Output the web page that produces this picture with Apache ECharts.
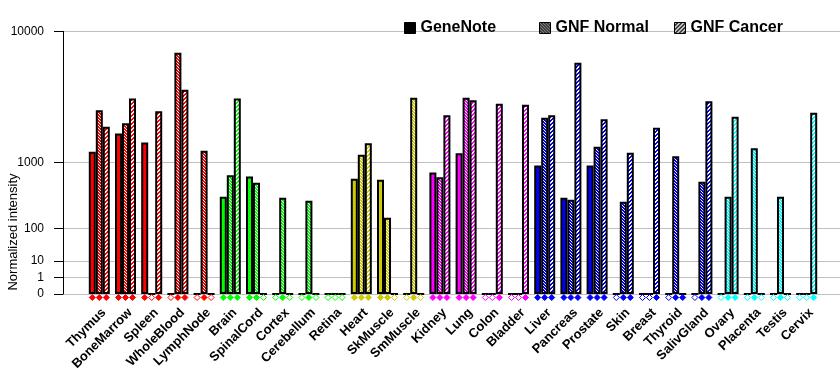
<!DOCTYPE html>
<html><head><meta charset="utf-8">
<script src="https://cdn.jsdelivr.net/npm/echarts@6/dist/echarts.min.js"></script>
<style>html,body{margin:0;padding:0;background:#fff}#c{width:840px;height:385px}</style>
</head><body><div id="c"></div>
<script>
const categories = ['Thymus','BoneMarrow','Spleen','WholeBlood','LymphNode','Brain','SpinalCord','Cortex','Cerebellum','Retina','Heart','SkMuscle','SmMuscle','Kidney','Lung','Colon','Bladder','Liver','Pancreas','Prostate','Skin','Breast','Thyroid','SalivGland','Ovary','Placenta','Testis','Cervix'];
const tissueColors = ['#ff0000','#ff0000','#ff0000','#ff0000','#ff0000','#00ff00','#00ff00','#00ff00','#00ff00','#00ff00','#cccc00','#cccc00','#cccc00','#ff00ff','#ff00ff','#ff00ff','#ff00ff','#0000ff','#0000ff','#0000ff','#0000ff','#0000ff','#0000ff','#0000ff','#00ffff','#00ffff','#00ffff','#00ffff'];
const geneNote  = [1300,1950,1610,null,null,370,690,null,null,null,650,630,null,770,1260,null,null,930,355,930,null,null,null,null,null,null,null,null];
const gnfNormal = [3050,2390,null,7540,1335,715,577,356,321,null,1215,165,3800,675,3800,null,null,2660,332,1460,310,null,1170,594,369,1410,369,null];
const gnfCancer = [2230,3740,2990,4340,null,3740,null,null,null,null,1580,null,null,2780,3630,3430,3370,2780,6550,2580,1270,2190,0,3570,2710,null,null,2920];
const seriesNames = ['GeneNote','GNF Normal','GNF Cancer'];
const tickValues = [0,1,10,100,1000,10000];
const tickLabels = ['0','1','10','100','1000','10000'];

const P = Math.log10(2);
const tr = v => (v == null ? 0 : (v <= 0 ? 0 : Math.pow(v, P)));
const tickTs = tickValues.map(tr);
const FONT = 'Arial, "Liberation Sans", sans-serif';

function fill(color, kind) {
  if (kind === 'solid') return color;
  const n = kind === 'normal' ? 3 : 4;
  const c = document.createElement('canvas');
  c.width = n; c.height = n;
  const ctx = c.getContext('2d');
  ctx.fillStyle = color; ctx.fillRect(0, 0, n, n);
  ctx.fillStyle = '#ffffff';
  for (let x = 0; x < n; x++) for (let y = 0; y < n; y++) {
    const on = kind === 'normal' ? ((x - y + n) % n === 0) : ((x + y) % n < 2);
    if (on) ctx.fillRect(x, y, 1, 1);
  }
  return { image: c, repeat: 'repeat' };
}
const kinds = ['solid','normal','cancer'];
const dataSets = [geneNote, gnfNormal, gnfCancer];
const offsets = [-7, 0, 7];

const maxT = 16;
const gridLineColors = [], tickColors = [];
for (let k = 0; k <= maxT; k++) {
  const on = tickTs.some(t => Math.abs(t - k) < 1e-6);
  gridLineColors.push(on ? '#c0c0c0' : 'rgba(0,0,0,0)');
  tickColors.push(on ? '#000000' : 'rgba(0,0,0,0)');
}

const TOP = 31.3, BOTTOM = 91;
const barLeft = 86.2, barWidthAll = 26.2 * categories.length;

const series = [];
dataSets.forEach((arr, s) => {
  series.push({
    name: seriesNames[s], type: 'bar', xAxisIndex: 1, yAxisIndex: 1,
    barWidth: 7, barGap: '0%',
    itemStyle: { color: fill('#000', kinds[s]), borderColor: '#000', borderWidth: 2 },
    emphasis: { disabled: true },
    data: arr.map((v, i) => ({ value: tr(v), itemStyle: { color: fill(tissueColors[i], kinds[s]), borderColor: '#000', borderWidth: 2 } }))
  });
});
dataSets.forEach((arr, s) => {
  series.push({
    name: seriesNames[s] + ' mark', type: 'scatter', xAxisIndex: 2, yAxisIndex: 2,
    symbol: 'diamond', symbolSize: 6, symbolOffset: [offsets[s], 0], silent: true,
    data: arr.map((v, i) => ({ value: [i, 0.5], itemStyle: { color: v == null ? '#ffffff' : tissueColors[i], borderColor: tissueColors[i], borderWidth: 1, opacity: 1 } }))
  });
});

const legends = seriesNames.map((n, s) => ({
  left: 399 + 135 * s, top: 15, itemWidth: 11, itemHeight: 11, icon: 'rect',
  selectedMode: false,
  textStyle: { fontFamily: FONT, fontSize: 16, fontWeight: 'bold', color: '#000' },
  data: [{ name: n, itemStyle: { color: fill('#000', kinds[s]), borderColor: '#000', borderWidth: 1 } }]
}));

const chart = echarts.init(document.getElementById('c'), null, { renderer: 'canvas' });
chart.setOption({
  animation: false,
  backgroundColor: '#ffffff',
  legend: legends,
  graphic: [{
    type: 'text', x: 13, y: 232, rotation: Math.PI / 2, silent: true,
    style: { text: 'Normalized intensity', fontFamily: FONT, fontSize: 13, fill: '#000', align: 'center', verticalAlign: 'middle' }
  }],
  grid: [
    { left: 63, right: 0, top: TOP, bottom: BOTTOM },
    { left: barLeft, width: barWidthAll, top: TOP, bottom: BOTTOM },
    { left: barLeft, width: barWidthAll, top: 294, height: 7 },
    { left: 54, width: 9, top: TOP, bottom: BOTTOM }
  ],
  xAxis: [
    { gridIndex: 0, type: 'value', show: false },
    { gridIndex: 1, type: 'category', data: categories, boundaryGap: true,
      axisLine: { show: false }, axisTick: { show: false }, splitLine: { show: false },
      axisLabel: { interval: 0, rotate: 45, margin: 12, verticalAlign: 'top', color: '#000', fontFamily: FONT, fontSize: 13, fontWeight: 'bold' } },
    { gridIndex: 2, type: 'category', data: categories, boundaryGap: true, show: false },
    { gridIndex: 3, type: 'value', show: false }
  ],
  yAxis: [
    { gridIndex: 0, type: 'value', min: 0, max: maxT, interval: 1,
      axisLine: { show: true, lineStyle: { color: '#000', width: 1 } },
      axisTick: { show: false },
      splitLine: { show: true, lineStyle: { color: gridLineColors, width: 1 } },
      axisLabel: { margin: 19, color: '#000', fontFamily: FONT, fontSize: 12,
        formatter: val => { const i = tickTs.findIndex(t => Math.abs(t - val) < 1e-6); return i >= 0 ? tickLabels[i] : ''; } } },
    { gridIndex: 1, type: 'value', min: 0, max: maxT, show: false, splitLine: { show: false } },
    { gridIndex: 2, type: 'value', min: 0, max: 1, show: false, splitLine: { show: false } },
    { gridIndex: 3, type: 'value', min: 0, max: maxT, interval: 1,
      axisLine: { show: false }, axisTick: { show: false }, axisLabel: { show: false },
      splitLine: { show: true, lineStyle: { color: tickColors, width: 1 } } }
  ],
  series: series
});
</script>
</body></html>
